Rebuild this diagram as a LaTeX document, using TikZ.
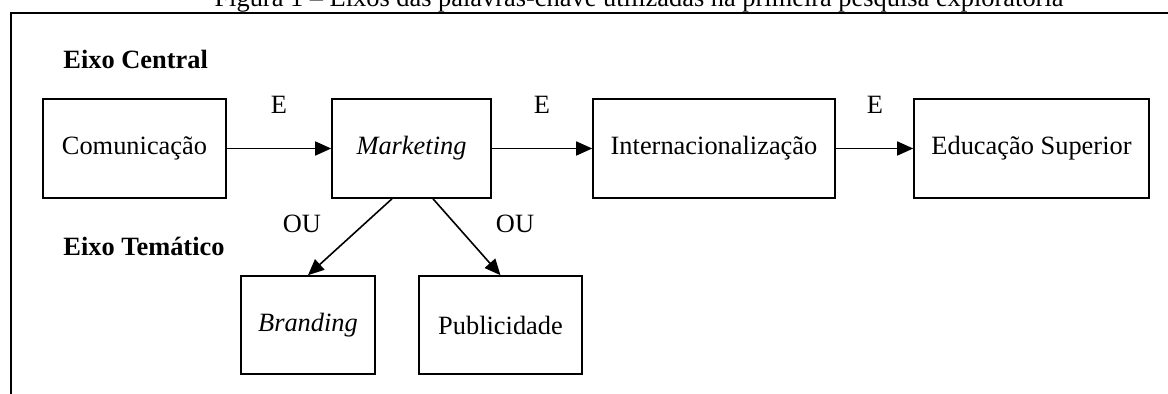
\documentclass[tikz,border=0pt]{standalone}
\usepackage{fontspec}
\setmainfont{Liberation Serif}
\usetikzlibrary{arrows.meta}
\begin{document}
\begin{tikzpicture}[x=0.5pt,y=-0.5pt,
  every node/.style={font=\fontsize{13.2}{15}\selectfont, inner sep=0pt},
  box/.style={draw, line width=0.8pt, minimum height=49.5pt},
  arr/.style={line width=0.8pt, -{Triangle[length=8pt,width=7pt]}},
  lbl/.style={anchor=base}]
\useasboundingbox (0,0) rectangle (1168,394);
\begin{scope}
\clip (0,0) rectangle (1168,394);
\node[lbl] (title) at (639,7) {Figura 1 – Eixos das palavras-chave utilizadas na primeira pesquisa exploratória};
\draw[line width=1pt] (11,394) -- (11,12.7) -- (1170,12.7);
\end{scope}
\node[anchor=base west, font=\fontsize{13.2}{15}\selectfont\bfseries] (ec) at (63,69) {Eixo Central};
\node[anchor=base west, font=\fontsize{13.2}{15}\selectfont\bfseries] (et) at (63,256) {Eixo Temático};
\node[box, minimum width=91.5pt] (com) at (134.5,148.5) {Comunicação};
\node[box, minimum width=79.5pt] (mkt) at (411.5,148.5) {\itshape Marketing};
\node[box, minimum width=121pt] (int) at (714,148.5) {Internacionalização};
\node[box, minimum width=117.5pt] (edu) at (1031.5,148.5) {Educação Superior};
\node[box, minimum width=67pt, minimum height=49pt] (bra) at (308,325) {\itshape Branding};
\node[box, minimum width=81.5pt, minimum height=49pt] (pub) at (500.5,325) {Publicidade};
\draw[arr] (com) -- (mkt);
\draw[arr] (mkt) -- (int);
\draw[arr] (int) -- (edu);
\draw[arr] ([xshift=-9.75pt]mkt.south) -- (bra.north);
\draw[arr] ([xshift=10.75pt]mkt.south) -- (pub.north);
\node[lbl] (e1) at (279,114) {E};
\node[lbl] (e2) at (542,114) {E};
\node[lbl] (e3) at (875,114) {E};
\node[lbl] (ou1) at (302,233) {OU};
\node[lbl] (ou2) at (515,233) {OU};
\end{tikzpicture}
\end{document}
